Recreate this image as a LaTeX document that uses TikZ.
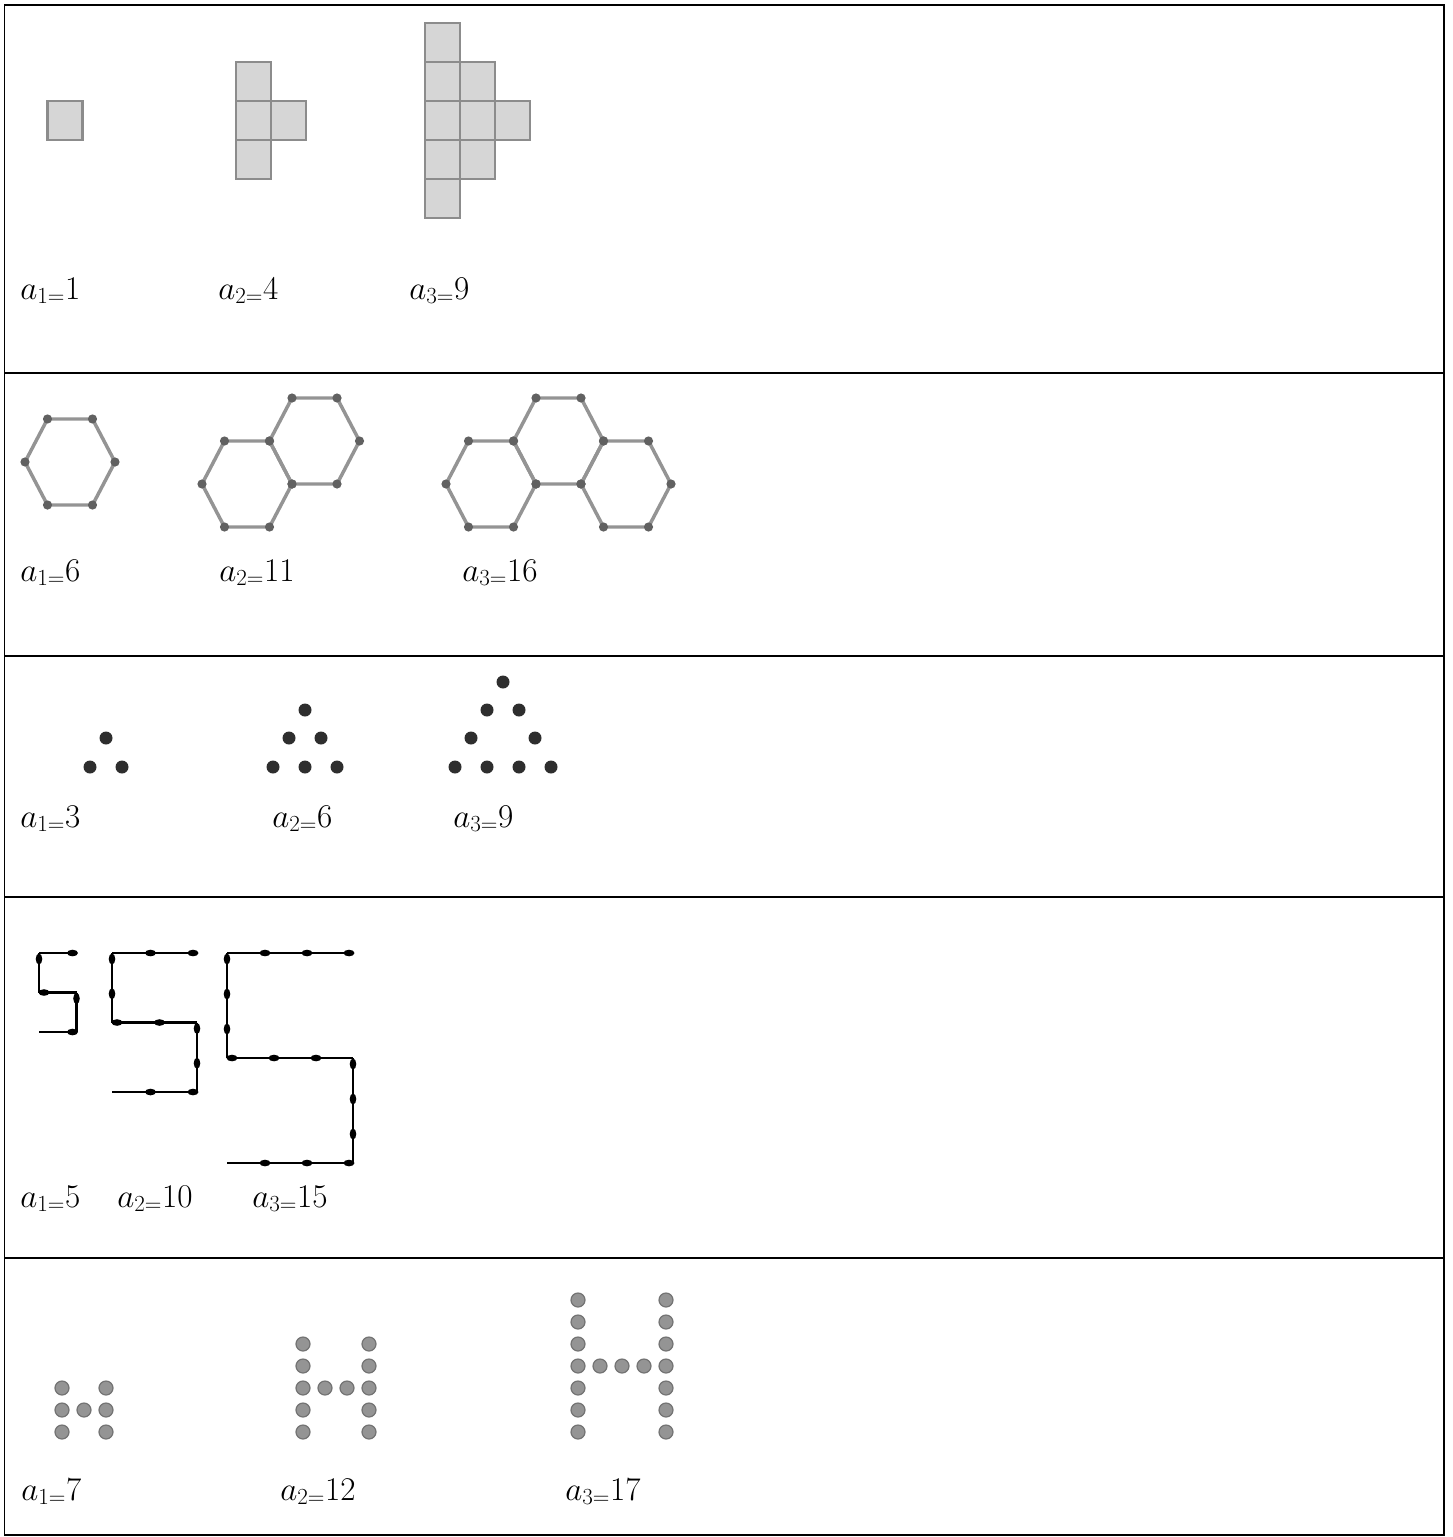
\documentclass[tikz,border=0pt]{standalone}

%% one stick figure of the "5" row: x0, y0, stick width, stick height, count
\newcommand{\matchfive}[5]{%
  \foreach \k in {1,...,#5}{%
    % top row, heads on the right
    \draw[match] ({#1+(\k-1)*#3},#2) -- ({#1+\k*#3},#2);
    \fill[head] ({#1+\k*#3-4},#2) ellipse [x radius=5.5, y radius=3.3];
    % left column, heads on top
    \draw[match] (#1,{#2+(\k-1)*#4}) -- (#1,{#2+\k*#4});
    \fill[head] (#1,{#2+(\k-1)*#4+6}) ellipse [x radius=3.3, y radius=5.5];
    % middle row, heads on the left
    \draw[match] ({#1+(\k-1)*#3},{#2+#5*#4}) -- ({#1+\k*#3},{#2+#5*#4});
    \fill[head] ({#1+(\k-1)*#3+5},{#2+#5*#4}) ellipse [x radius=5.5, y radius=3.3];
    % right column, heads on top
    \draw[match] ({#1+#5*#3},{#2+(#5+\k-1)*#4}) -- ({#1+#5*#3},{#2+(#5+\k)*#4});
    \fill[head] ({#1+#5*#3},{#2+(#5+\k-1)*#4+6}) ellipse [x radius=3.3, y radius=5.5];
    % bottom row, heads on the right
    \draw[match] ({#1+(\k-1)*#3},{#2+2*#5*#4}) -- ({#1+\k*#3},{#2+2*#5*#4});
    \fill[head] ({#1+\k*#3-4},{#2+2*#5*#4}) ellipse [x radius=5.5, y radius=3.3];
  }%
}

%% one hexagon of sticks with a knob at each corner: centre x, centre y
\newcommand{\hexcell}[2]{%
  \draw[stick] (#1-45,#2) -- (#1-22.5,#2-43) -- (#1+22.5,#2-43)
    -- (#1+45,#2) -- (#1+22.5,#2+43) -- (#1-22.5,#2+43) -- cycle;
  \foreach \dx/\dy in {-45/0,-22.5/-43,22.5/-43,45/0,22.5/43,-22.5/43}
    \fill[knob] (#1+\dx,#2+\dy) circle (4.6);
}

%% one H of beads: left x, n
\newcommand{\pearlH}[2]{%
  \pgfmathtruncatemacro{\pearlrows}{2*#2}
  \foreach \j in {0,...,\pearlrows}{%
    \filldraw[pearl] (#1,{1432-22*\j}) circle (7);
    \filldraw[pearl] ({#1+22*(#2+1)},{1432-22*\j}) circle (7);
  }%
  \foreach \i in {1,...,#2}
    \filldraw[pearl] ({#1+22*\i},{1432-22*#2}) circle (7);
}

\begin{document}
\begin{tikzpicture}[
  x=0.75pt, y=-0.75pt,
  rule/.style={line width=1.1pt, black},
  tile/.style={fill=black!16, draw=black!45, line width=1.9pt},
  stick/.style={draw=black!42, line width=2.6pt, line join=round},
  knob/.style={fill=black!62},
  bead/.style={fill=black!82},
  match/.style={line width=1.9pt, black},
  head/.style={fill=black},
  pearl/.style={fill=black!42, draw=black!55, line width=0.9pt},
  term/.style={anchor=base west, inner sep=0pt, font=\fontsize{26}{30}\selectfont},
]
\useasboundingbox (0,0) rectangle (1452,1537);

%% Table frame
\draw[rule] (4.5,5) rectangle (1444,1535);
\foreach \y in {373,656,897,1258}
  \draw[rule] (4.5,\y) -- (1444,\y);

%% Row 1: squares
\draw[tile] (47.5,101) rectangle ++(35,39);
\foreach \c/\r in {0/0,0/1,0/2,1/1}
  \draw[tile] ({236+35*\c},{62+39*\r}) rectangle ++(35,39);
\foreach \c/\r in {0/0,0/1,0/2,0/3,0/4,1/1,1/2,1/3,2/2}
  \draw[tile] ({425+35*\c},{23+39*\r}) rectangle ++(35,39);

\node[term] (sq1) at (20,299) {$a_{1=}1$};
\node[term] (sq2) at (218,299) {$a_{2=}4$};
\node[term] (sq3) at (409,299) {$a_{3=}9$};

%% Row 2: hexagons
\hexcell{70}{462}
\hexcell{247}{484}
\hexcell{314.5}{441}
\hexcell{491}{484}
\hexcell{558.5}{441}
\hexcell{626}{484}

\node[term] (hx1) at (20,581) {$a_{1=}6$};
\node[term] (hx2) at (219,581) {$a_{2=}11$};
\node[term] (hx3) at (462,581) {$a_{3=}16$};

%% Row 3: triangles of dots
\foreach \p in {(106,738),(90,767),(122,767),
    (305,710),(289,738),(321,738),(273,767),(305,767),(337,767),
    (503,682),(487,710),(519,710),(471,738),(535,738),
    (455,767),(487,767),(519,767),(551,767)}
  \fill[bead] \p circle (6.5);

\node[term] (tr1) at (20,827) {$a_{1=}3$};
\node[term] (tr2) at (272,827) {$a_{2=}6$};
\node[term] (tr3) at (453,827) {$a_{3=}9$};

%% Row 4: matchstick fives
\matchfive{39}{953}{37.5}{39.5}{1}
\matchfive{112}{953}{42.5}{34.75}{2}
\matchfive{227}{953}{42}{35}{3}

\node[term] (mf1) at (20,1207) {$a_{1=}5$};
\node[term] (mf2) at (117,1207) {$a_{2=}10$};
\node[term] (mf3) at (252,1207) {$a_{3=}15$};

%% Row 5: H of beads
\pearlH{62}{1}
\pearlH{303}{2}
\pearlH{578}{3}

\node[term] (ph1) at (21,1500) {$a_{1=}7$};
\node[term] (ph2) at (280,1500) {$a_{2=}12$};
\node[term] (ph3) at (565,1500) {$a_{3=}17$};

\end{tikzpicture}
\end{document}
